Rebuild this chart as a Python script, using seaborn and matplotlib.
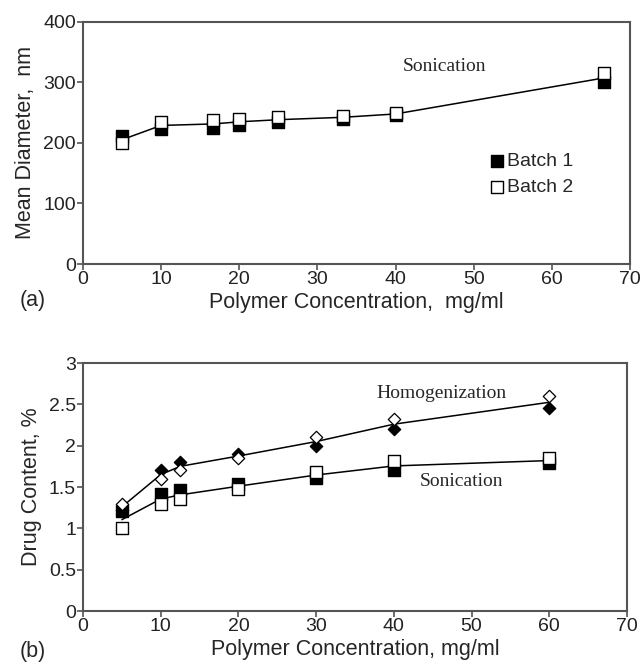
import numpy as np
import pandas as pd
import matplotlib
matplotlib.use("Agg")
import matplotlib.pyplot as plt
import seaborn as sns

sns.set_theme(style="white")
plt.rcParams['font.family'] = ['Liberation Sans', 'DejaVu Sans']

# ---- data: panel (a) ----
conc_a = [5, 10, 16.67, 20, 25, 33.33, 40, 66.67]
batch1_a = [211, 223, 225, 230, 234, 240, 247, 300]
batch2_a = [200, 235, 238, 240, 243, 245, 249, 315]

# ---- data: panel (b) ----
conc_b = [5, 10, 12.5, 20, 30, 40, 60]
homog_b1 = [1.22, 1.70, 1.80, 1.90, 2.00, 2.20, 2.45]
homog_b2 = [1.30, 1.60, 1.70, 1.85, 2.10, 2.32, 2.60]
sonic_b1 = [1.21, 1.41, 1.46, 1.54, 1.61, 1.70, 1.79]
sonic_b2 = [1.00, 1.30, 1.35, 1.48, 1.68, 1.81, 1.85]

xticks = [0, 10, 20, 30, 40, 50, 60, 70]
yticks_a = [0, 100, 200, 300, 400]
yticks_b = [0, 0.5, 1, 1.5, 2, 2.5, 3]
ytick_labels_b = ["0", "0.5", "1", "1.5", "2", "2.5", "3"]

df_a = pd.DataFrame({"x": conc_a, "b1": batch1_a, "b2": batch2_a})
df_a["mean"] = df_a[["b1", "b2"]].mean(axis=1)
df_b = pd.DataFrame({"x": conc_b, "h1": homog_b1, "h2": homog_b2,
                     "s1": sonic_b1, "s2": sonic_b2})
df_b["hm"] = df_b[["h1", "h2"]].mean(axis=1)
df_b["sm"] = df_b[["s1", "s2"]].mean(axis=1)

fig = plt.figure(figsize=(6.42, 6.64), dpi=100)
ax1 = fig.add_axes([0.1293, 0.6024, 0.852, 0.3645])
ax2 = fig.add_axes([0.1293, 0.0798, 0.8474, 0.3735])

spine_col = "#555555"
tick_fs = 14
lab_fs = 15.5
ann_fs = 14
serif = ['Liberation Serif', 'DejaVu Serif']

def style(ax):
    for s in ax.spines.values():
        s.set_color(spine_col)
        s.set_linewidth(1.5)
        s.set_visible(True)
    ax.tick_params(axis='both', direction='out', length=4, width=1.2,
                   color=spine_col, labelsize=tick_fs, labelcolor="#222222",
                   pad=1, bottom=True, left=True)
    ax.grid(False)

# panel (a)
sns.lineplot(data=df_a, x="x", y="mean", ax=ax1, color="black", lw=1.1, zorder=2)
sns.scatterplot(data=df_a, x="x", y="b1", ax=ax1, marker="s", s=80,
                color="black", edgecolor="black", linewidth=1.0, zorder=3,
                label="Batch 1")
sns.scatterplot(data=df_a, x="x", y="b2", ax=ax1, marker="s", s=80,
                color="white", edgecolor="black", linewidth=1.0, zorder=4,
                label="Batch 2")
ax1.set_xlim(0, 70)
ax1.set_ylim(0, 400)
ax1.set_xticks(xticks)
ax1.set_yticks(yticks_a)
ax1.set_xlabel("Polymer Concentration,  mg/ml", fontsize=lab_fs, labelpad=3)
ax1.set_ylabel("Mean Diameter,  nm", fontsize=lab_fs, labelpad=5)
style(ax1)
ax1.text(46.2, 326, "Sonication", family=serif, fontsize=ann_fs,
         ha="center", va="center")
leg = ax1.legend(loc="center left", bbox_to_anchor=(0.742, 0.37), frameon=False,
                 fontsize=14, handlelength=0.8, handletextpad=0.15,
                 labelspacing=0.45, borderaxespad=0, borderpad=0,
                 markerscale=1.0)

# panel (b)
sns.lineplot(data=df_b, x="x", y="hm", ax=ax2, color="black", lw=1.1, zorder=2)
sns.lineplot(data=df_b, x="x", y="sm", ax=ax2, color="black", lw=1.1, zorder=2)
sns.scatterplot(data=df_b, x="x", y="h1", ax=ax2, marker="D", s=40,
                color="black", edgecolor="black", linewidth=0.9, zorder=3)
sns.scatterplot(data=df_b, x="x", y="h2", ax=ax2, marker="D", s=40,
                color="white", edgecolor="black", linewidth=0.9, zorder=4)
sns.scatterplot(data=df_b, x="x", y="s1", ax=ax2, marker="s", s=80,
                color="black", edgecolor="black", linewidth=1.0, zorder=3)
sns.scatterplot(data=df_b, x="x", y="s2", ax=ax2, marker="s", s=80,
                color="white", edgecolor="black", linewidth=1.0, zorder=4)
ax2.set_xlim(0, 70)
ax2.set_ylim(0, 3)
ax2.set_xticks(xticks)
ax2.set_yticks(yticks_b)
ax2.set_yticklabels(ytick_labels_b)
ax2.set_xlabel("Polymer Concentration, mg/ml", fontsize=lab_fs, labelpad=3)
ax2.set_ylabel("Drug Content, %", fontsize=lab_fs, labelpad=5)
style(ax2)
ax2.text(46.1, 2.63, "Homogenization", family=serif, fontsize=ann_fs,
         ha="center", va="center")
ax2.text(48.7, 1.565, "Sonication", family=serif, fontsize=ann_fs,
         ha="center", va="center")

fig.text(0.031, 1 - 300 / 664, "(a)", fontsize=lab_fs, ha="left", va="center")
fig.text(0.031, 1 - 652 / 664, "(b)", fontsize=lab_fs, ha="left", va="center")

fig.savefig("out.png", dpi=100, facecolor="white")
